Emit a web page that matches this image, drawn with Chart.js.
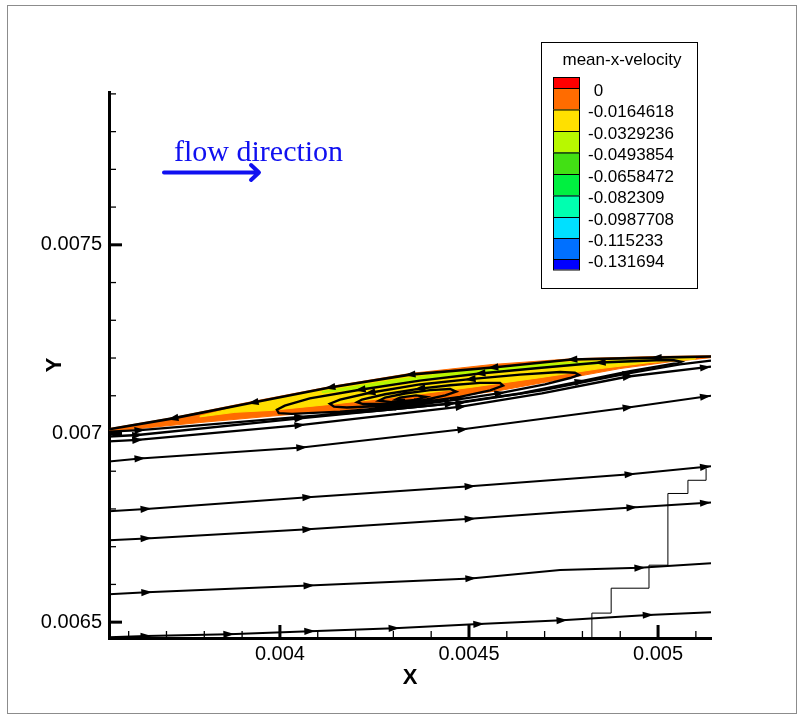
<!DOCTYPE html>
<html>
<head>
<meta charset="utf-8">
<script src="https://cdn.jsdelivr.net/npm/chart.js@4.4.1/dist/chart.umd.min.js"></script>
<style>
  html, body { margin: 0; padding: 0; background: #fff; }
  #wrap { width: 798px; height: 715px; }
</style>
</head>
<body>
<div id="wrap"><canvas id="chart" width="798" height="715"></canvas></div>
<script>
// axes
const xRange = [0.003548, 0.00514]
const yRange = [0.006458, 0.007905]
const xTickValues = [0.004, 0.0045, 0.005]
const xTickLabels = ['0.004', '0.0045', '0.005']
const xMinorTicks = [0.0036, 0.0037, 0.0038, 0.0039, 0.0041, 0.0042, 0.0043, 0.0044, 0.0046, 0.0047, 0.0048, 0.0049, 0.0051]
const yTickValues = [0.0065, 0.007, 0.0075]
const yTickLabels = ['0.0065', '0.007', '0.0075']
const yMinorTicks = [0.0066, 0.0067, 0.0068, 0.0069, 0.0071, 0.0072, 0.0073, 0.0074, 0.0076, 0.0077, 0.0078, 0.0079]

// contour legend
const contourTitle = 'mean-x-velocity'
const contourLevels = ['0', '-0.0164618', '-0.0329236', '-0.0493854', '-0.0658472', '-0.082309', '-0.0987708', '-0.115233', '-0.131694']
const contourColors = ['#ff0000', '#ff6c00', '#ffe000', '#b8f800', '#42e014', '#00f040', '#00ffb0', '#00e0ff', '#0070ff', '#0000ff']

// filled contour bands of the separation bubble (x, y)
const bandOrange = [[0.003548, 0.007013], [0.003717, 0.007042], [0.003929, 0.007085], [0.004132, 0.007124], [0.004344, 0.007159], [0.004563, 0.007183], [0.004772, 0.007198], [0.004995, 0.007204], [0.00514, 0.007206],
  [0.00514, 0.007201], [0.005032, 0.00719], [0.004899, 0.007172], [0.004741, 0.007143], [0.004582, 0.007114], [0.00437, 0.007085], [0.004185, 0.007063], [0.004, 0.007048], [0.003788, 0.007029], [0.003548, 0.007005]]
const bandYellow = [[0.003788, 0.007046], [0.003881, 0.007069], [0.003929, 0.007079], [0.004132, 0.007119], [0.004344, 0.007152], [0.004563, 0.007176], [0.004772, 0.007192], [0.004952, 0.007197], [0.005098, 0.0072],
  [0.005098, 0.007197], [0.004979, 0.007188], [0.004847, 0.007172], [0.004688, 0.007148], [0.004503, 0.007122], [0.004317, 0.007098], [0.004132, 0.007077], [0.003974, 0.007061], [0.003881, 0.007056], [0.003788, 0.007044]]
const bandGreen = [[0.004111, 0.007111], [0.004317, 0.007144], [0.004529, 0.007171], [0.004741, 0.007187], [0.004974, 0.007194],
  [0.004974, 0.007192], [0.004794, 0.007181], [0.004582, 0.007164], [0.004397, 0.007143], [0.004238, 0.007122], [0.004111, 0.007108]]

// streamlines (x, y) and arrowhead positions (point indices)
const streamA = [[0.003548, 0.00646], [0.003646, 0.006463], [0.003865, 0.006468], [0.004079, 0.006476], [0.004302, 0.006484], [0.004526, 0.006495], [0.004746, 0.006505], [0.004974, 0.006519], [0.00514, 0.006526]]
const arrowsA = [1, 2, 3, 4, 5, 6, 7]
const streamB = [[0.003548, 0.006574], [0.003648, 0.006579], [0.004077, 0.006597], [0.004505, 0.006616], [0.004741, 0.006638], [0.004952, 0.006644], [0.00514, 0.006656]]
const arrowsB = [1, 2, 3, 5]
const streamC = [[0.003548, 0.006717], [0.003646, 0.006722], [0.004074, 0.006746], [0.004503, 0.006774], [0.004741, 0.006791], [0.004931, 0.006804], [0.00514, 0.006817]]
const arrowsC = [1, 2, 3, 5, 6]
const streamD = [[0.003548, 0.006794], [0.003646, 0.0068], [0.004074, 0.006831], [0.004503, 0.00686], [0.004741, 0.006878], [0.004926, 0.006892], [0.00514, 0.006913]]
const arrowsD = [1, 2, 3, 5, 6]
const streamE = [[0.003548, 0.006926], [0.00363, 0.006934], [0.004058, 0.006963], [0.004484, 0.007011], [0.004921, 0.007069], [0.00514, 0.0071]]
const arrowsE = [1, 2, 3, 4, 5]
const streamF = [[0.003548, 0.006979], [0.003624, 0.006983], [0.004053, 0.007022], [0.004479, 0.007071], [0.004693, 0.007106], [0.004921, 0.007151], [0.00514, 0.007177]]
const arrowsF = [1, 2, 3, 5, 6]
const streamG = [[0.003548, 0.006992], [0.003624, 0.006996], [0.004053, 0.00704], [0.004479, 0.007082], [0.004693, 0.007114], [0.004921, 0.007159], [0.005058, 0.007183], [0.00514, 0.007193]]
const arrowsG = [1, 2, 3, 5]
// reversed flow along the top of the bubble
const streamTop = [[0.00514, 0.007204], [0.004995, 0.007201], [0.004772, 0.007196], [0.004563, 0.007175], [0.004344, 0.007156], [0.004132, 0.007122], [0.003929, 0.007082], [0.003717, 0.00704], [0.003548, 0.007011]]
const arrowsTop = [1, 2, 3, 4, 5, 6, 7]
// trace winding into the vortex core
const streamSpiral = [
  [0.003548, 0.007005], [0.00363, 0.007009], [0.003841, 0.007026], [0.004053, 0.007044], [0.004265, 0.007061], [0.00445, 0.007079], [0.004635, 0.007106], [0.004794, 0.007138], [0.004926, 0.007165], [0.005019, 0.007181],
  [0.005053, 0.007187], [0.005061, 0.00719], [0.005042, 0.007194], [0.004995, 0.007194], [0.004847, 0.007188], [0.004677, 0.007173], [0.004529, 0.007159], [0.00437, 0.00714], [0.004212, 0.007116], [0.004079, 0.007093],
  [0.004013, 0.007074], [0.003992, 0.007063], [0.003997, 0.007054], [0.004032, 0.007052], [0.004159, 0.007058], [0.004317, 0.007071], [0.00445, 0.007087], [0.004582, 0.007107], [0.004701, 0.00713], [0.004767, 0.007147],
  [0.004791, 0.007155], [0.00478, 0.007161], [0.004741, 0.007163], [0.004635, 0.007156], [0.004503, 0.007144], [0.00437, 0.00713], [0.004238, 0.007108], [0.004159, 0.00709], [0.004132, 0.007079], [0.004143, 0.007071],
  [0.004177, 0.007069], [0.004265, 0.007073], [0.00437, 0.007082], [0.004476, 0.007097], [0.004556, 0.007114], [0.00459, 0.007127], [0.004582, 0.007134], [0.004529, 0.007134], [0.00445, 0.007128], [0.00437, 0.007119],
  [0.004278, 0.007104], [0.004217, 0.00709], [0.004204, 0.007083], [0.00422, 0.007078], [0.004291, 0.007078], [0.00437, 0.007086], [0.004437, 0.007101], [0.004466, 0.007111], [0.00445, 0.007118], [0.004397, 0.007115],
  [0.004331, 0.007106], [0.004278, 0.007095], [0.004262, 0.007087], [0.004296, 0.007083], [0.004357, 0.007089], [0.004386, 0.007097], [0.00436, 0.007101], [0.004317, 0.007095], [0.004307, 0.00709], [0.004331, 0.007089]]
const arrowsSpiral = [1, 3, 5, 7, 14, 16, 18, 25, 27, 34, 36, 42, 49, 55]
// step line in the lower right
const stepLine = [[0.00478, 0.006458], [0.004825, 0.006524], [0.004876, 0.00659], [0.004976, 0.006651], [0.005026, 0.006841], [0.005079, 0.006876], [0.005127, 0.006907]]

const annotationText = 'flow direction'

const toPoints = (pairs) => pairs.map(([x, y]) => ({ x, y }))

const streamSet = (pairs, arrows, width) => ({
  data: toPoints(pairs),
  arrows: arrows,
  borderColor: '#000',
  borderWidth: width,
  pointRadius: 0,
  fill: false,
})

const bandSet = (pairs, color) => ({
  data: toPoints(pairs),
  arrows: [],
  borderColor: color,
  borderWidth: 1,
  backgroundColor: color,
  pointRadius: 0,
  fill: 'shape',
})

const pageFrame = {
  id: 'pageFrame',
  beforeDraw: (chart) => {
    const { ctx } = chart
    ctx.save()
    ctx.fillStyle = '#fff'
    ctx.fillRect(0, 0, chart.width, chart.height)
    ctx.strokeStyle = '#8c8c8c'
    ctx.lineWidth = 1
    ctx.strokeRect(7.5, 5.5, 789, 708)
    ctx.restore()
  },
}

const streamArrows = {
  id: 'streamArrows',
  afterDatasetsDraw: (chart) => {
    const { ctx } = chart
    ctx.save()
    ctx.fillStyle = '#000'
    chart.data.datasets.forEach((ds, i) => {
      const pts = chart.getDatasetMeta(i).data
      ;(ds.arrows || []).forEach((k) => {
        const last = k === pts.length - 1
        const a = pts[Math.max(k - 1, 0)]
        const b = pts[Math.min(k + 1, pts.length - 1)]
        const p = pts[k]
        const ang = Math.atan2(b.y - a.y, b.x - a.x)
        const len = 11
        const half = 3.6
        const tipOff = last ? 0 : len / 2
        ctx.save()
        ctx.translate(p.x, p.y)
        ctx.rotate(ang)
        ctx.beginPath()
        ctx.moveTo(tipOff, 0)
        ctx.lineTo(tipOff - len, -half)
        ctx.lineTo(tipOff - len, half)
        ctx.closePath()
        ctx.fill()
        ctx.restore()
      })
    })
    ctx.restore()
  },
}

const axisTicks = {
  id: 'axisTicks',
  afterDraw: (chart) => {
    const { ctx, chartArea } = chart
    const xs = chart.scales.x
    const ys = chart.scales.y
    ctx.save()
    ctx.strokeStyle = '#000'
    const mark = (x1, y1, x2, y2, w) => {
      ctx.lineWidth = w
      ctx.beginPath()
      ctx.moveTo(x1, y1)
      ctx.lineTo(x2, y2)
      ctx.stroke()
    }
    xTickValues.forEach((v) => { const px = xs.getPixelForValue(v); mark(px, chartArea.bottom, px, chartArea.bottom - 13, 3) })
    xMinorTicks.forEach((v) => { const px = xs.getPixelForValue(v); mark(px, chartArea.bottom, px, chartArea.bottom - 7, 1.3) })
    yTickValues.forEach((v) => { const py = ys.getPixelForValue(v); mark(chartArea.left, py, chartArea.left + 13, py, 3) })
    yMinorTicks.forEach((v) => { const py = ys.getPixelForValue(v); mark(chartArea.left, py, chartArea.left + 7, py, 1.3) })
    ctx.restore()
  },
}

const contourLegend = {
  id: 'contourLegend',
  afterDraw: (chart) => {
    const { ctx } = chart
    ctx.save()
    ctx.strokeStyle = '#000'
    ctx.lineWidth = 1
    ctx.strokeRect(541.5, 42.5, 156, 246)
    ctx.fillStyle = '#000'
    ctx.font = '17px "Liberation Sans", Arial, sans-serif'
    ctx.textAlign = 'center'
    ctx.textBaseline = 'middle'
    ctx.fillText(contourTitle, 622, 60)
    const edges = [77, 88, 109.5, 131, 152.5, 174, 195.5, 217, 238, 259, 269.5]
    contourColors.forEach((c, i) => {
      ctx.fillStyle = c
      ctx.fillRect(553, edges[i], 27, edges[i + 1] - edges[i])
      ctx.strokeRect(553.5, edges[i] + 0.5, 26, edges[i + 1] - edges[i])
    })
    ctx.fillStyle = '#000'
    ctx.textAlign = 'left'
    const dash = ctx.measureText('-').width
    contourLevels.forEach((t, i) => {
      const x = t.startsWith('-') ? 588 : 588 + dash
      ctx.fillText(t, x, edges[i + 1] + 3)
    })
    ctx.restore()
  },
}

const flowNote = {
  id: 'flowNote',
  afterDraw: (chart) => {
    const { ctx } = chart
    ctx.save()
    ctx.fillStyle = '#1010f0'
    ctx.strokeStyle = '#1010f0'
    ctx.font = '30px "Liberation Serif", "Times New Roman", serif'
    ctx.textBaseline = 'alphabetic'
    ctx.fillText(annotationText, 174, 161)
    ctx.lineWidth = 4
    ctx.lineCap = 'round'
    ctx.lineJoin = 'round'
    ctx.beginPath()
    ctx.moveTo(164, 172.5)
    ctx.lineTo(258, 172.5)
    ctx.moveTo(251, 165)
    ctx.lineTo(259, 172.5)
    ctx.lineTo(251, 180)
    ctx.stroke()
    ctx.restore()
  },
}

Chart.defaults.font.family = '"Liberation Sans", Arial, sans-serif'
Chart.defaults.color = '#000'

new Chart(document.getElementById('chart'), {
  type: 'line',
  data: {
    datasets: [
      streamSet(streamSpiral, arrowsSpiral, 2.4),
      streamSet(streamTop, arrowsTop, 2.6),
      streamSet(streamG, arrowsG, 2.3),
      streamSet(streamF, arrowsF, 2.3),
      streamSet(streamE, arrowsE, 2),
      streamSet(streamD, arrowsD, 2),
      streamSet(streamC, arrowsC, 2),
      streamSet(streamB, arrowsB, 2),
      streamSet(streamA, arrowsA, 2),
      { data: toPoints(stepLine), arrows: [], borderColor: '#000', borderWidth: 1, pointRadius: 0, fill: false, stepped: 'before' },
      bandSet(bandGreen, contourColors[3]),
      bandSet(bandYellow, contourColors[2]),
      bandSet(bandOrange, contourColors[1]),
    ],
  },
  options: {
    responsive: false,
    animation: false,
    layout: { padding: { left: 0, right: 87, top: 92, bottom: 0 } },
    plugins: { legend: { display: false }, tooltip: { enabled: false } },
    scales: {
      x: {
        type: 'linear',
        min: xRange[0],
        max: xRange[1],
        afterBuildTicks: (s) => { s.ticks = xTickValues.map((v) => ({ value: v })) },
        afterFit: (s) => { s.height = 77 },
        grid: { display: false, drawTicks: false },
        border: { display: true, color: '#000', width: 3 },
        ticks: { callback: (v, i) => xTickLabels[i], font: { size: 20 }, padding: 4, maxRotation: 0, autoSkip: false },
        title: { display: true, text: 'X', font: { size: 22, weight: 'bold' }, padding: { top: 0, bottom: 24 } },
      },
      y: {
        type: 'linear',
        min: yRange[0],
        max: yRange[1],
        afterBuildTicks: (s) => { s.ticks = yTickValues.map((v) => ({ value: v })) },
        afterFit: (s) => { s.width = 109 },
        grid: { display: false, drawTicks: false },
        border: { display: true, color: '#000', width: 3 },
        ticks: { callback: (v, i) => yTickLabels[i], font: { size: 20 }, padding: 7, autoSkip: false },
        title: { display: true, text: 'Y', font: { size: 22, weight: 'bold' }, padding: { top: 42, bottom: 0 } },
      },
    },
  },
  plugins: [pageFrame, streamArrows, axisTicks, contourLegend, flowNote],
})
</script>
</body>
</html>
